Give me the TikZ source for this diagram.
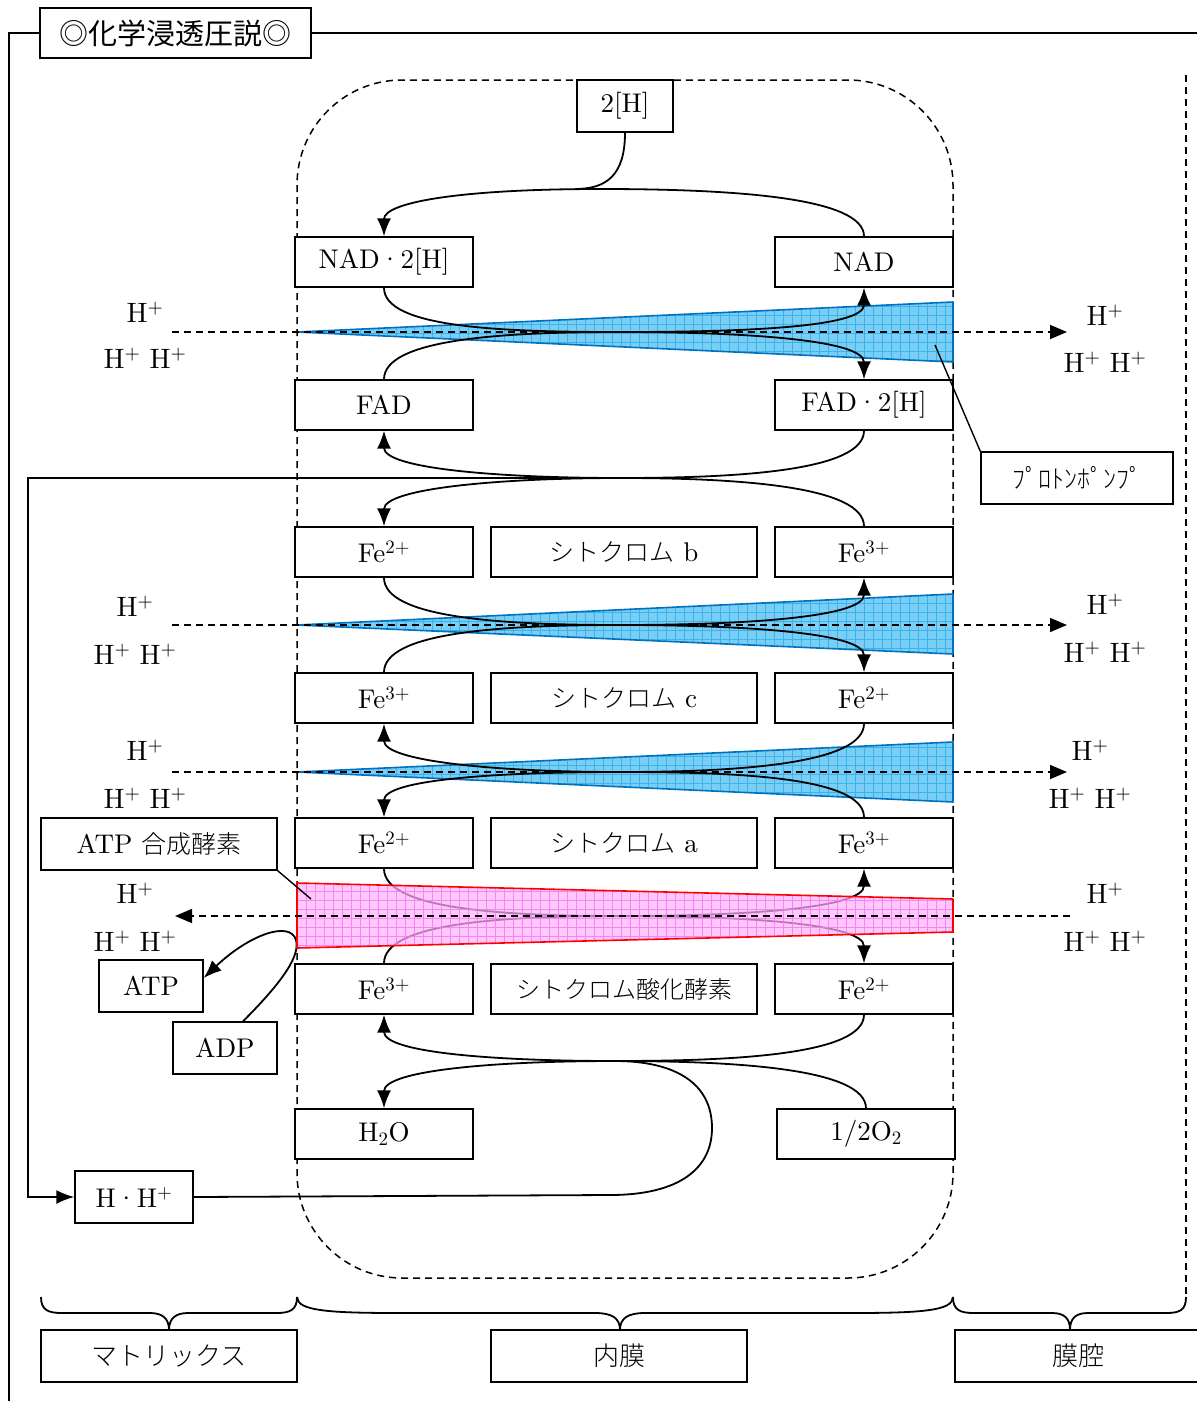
\documentclass[tikz,border=0pt]{standalone}
\usepackage{fontspec}
\setmainfont{lmroman10-regular.otf}[BoldFont=lmroman10-bold.otf, ItalicFont=lmroman10-italic.otf]
\newfontfamily\jp{Noto Sans CJK JP}[UprightFont={* Light}]
\newfontfamily\jpt{Noto Sans CJK JP}
\usetikzlibrary{arrows.meta}
\definecolor{wblue}{RGB}{120,206,244}
\definecolor{wbgrid}{RGB}{60,178,235}
\definecolor{wbedge}{RGB}{0,112,192}
\definecolor{wpink}{RGB}{255,175,250}
\definecolor{wpgrid}{RGB}{240,120,240}
\newcommand\bluewedge[3]{%
  \begin{scope}
    \clip (297,#1) -- (953,#2) -- (953,#3) -- cycle;
    \fill[wblue] (290,#2-5) rectangle (960,#3+5);
    \draw[wbgrid, line width=0.5pt, step=9pt] (290,#2-5) grid (960,#3+5);
  \end{scope}
  \draw[wbedge, line width=1.6pt, line join=round] (297,#1) -- (953,#2) -- (953,#3) -- cycle;}
\begin{document}
\begin{tikzpicture}[x=1pt,y=-1pt,
  bx/.style={draw, fill=white, line width=1.4pt, inner sep=0pt, font=\fontsize{27}{30}\selectfont},
  sz/.style={minimum width=178pt, minimum height=50pt},
  mid/.style={minimum width=266pt, minimum height=50pt, font=\fontsize{27}{30}\selectfont},
  lbl/.style={inner sep=0pt, font=\fontsize{28}{30}\selectfont},
  crv/.style={line width=1.8pt},
  arr/.style={line width=1.8pt, -{Latex[length=18pt,width=14pt]}},
  dsh/.style={line width=1.5pt, dash pattern=on 7pt off 5pt},
  darr/.style={line width=1.5pt, dash pattern=on 7pt off 5pt, -{Triangle[length=17pt,width=14pt]}}]
\useasboundingbox (0,0) rectangle (1197,1401);

% ---- frame ----
\node[bx, minimum width=271pt, minimum height=50pt, font=\jpt\fontsize{29}{32}\selectfont] (title) at (175.5,33) {◎化学浸透圧説◎};
\coordinate (f1) at (9,33);
\coordinate (f2) at (9,1401);
\coordinate (f3) at (1197,33);
\draw[line width=1.5pt] (title.west) -- (f1) -- (f2);
\draw[line width=1.5pt] (title.east) -- (f3);

\draw[dsh, rounded corners=105pt] (297,80) rectangle (953,1278);
\draw[dsh] (1186,75) -- (1186,1297);

% ---- braces ----
\draw[crv] (41,1297) .. controls (41,1310) and (48,1313) .. (62,1313) -- (150,1313)
  .. controls (162,1313) and (169,1318) .. (169,1330)
  .. controls (169,1318) and (176,1313) .. (188,1313) -- (276,1313)
  .. controls (290,1313) and (297,1310) .. (297,1297);
\draw[crv] (297,1297) .. controls (297,1311) and (330,1313) .. (400,1313) -- (595,1313)
  .. controls (612,1313) and (620,1318) .. (620,1330)
  .. controls (620,1318) and (628,1313) .. (645,1313) -- (850,1313)
  .. controls (920,1313) and (953,1311) .. (953,1297);
\draw[crv] (953,1297) .. controls (953,1310) and (960,1313) .. (974,1313) -- (1052,1313)
  .. controls (1064,1313) and (1070,1318) .. (1070,1330)
  .. controls (1070,1318) and (1076,1313) .. (1088,1313) -- (1166,1313)
  .. controls (1180,1313) and (1186,1310) .. (1186,1297);

% ---- blue wedges ----
\bluewedge{332}{302}{362}
\bluewedge{625}{594}{654}
\bluewedge{772}{742}{802}

% ---- boxes ----
\node[bx, minimum width=96pt, minimum height=52pt] (h2) at (625,106) {2[H]};
\node[bx,sz] (nad2h) at (384,262) {NAD·2[H]};
\node[bx,sz] (nad) at (864,262) {NAD};
\node[bx,sz] (fad) at (384,405) {FAD};
\node[bx,sz] (fad2h) at (864,405) {FAD·2[H]};

\node[bx,sz] (fe1l) at (384,552) {Fe\textsuperscript{2+}};
\node[bx,mid] (cytb) at (624,552) {{\jp\fontsize{25}{30}\selectfont シトクロム} b};
\node[bx,sz] (fe1r) at (864,552) {Fe\textsuperscript{3+}};

\node[bx,sz] (fe2l) at (384,698) {Fe\textsuperscript{3+}};
\node[bx,mid] (cytc) at (624,698) {{\jp\fontsize{25}{30}\selectfont シトクロム} c};
\node[bx,sz] (fe2r) at (864,698) {Fe\textsuperscript{2+}};

\node[bx,sz] (fe3l) at (384,843) {Fe\textsuperscript{2+}};
\node[bx,mid] (cyta) at (624,843) {{\jp\fontsize{25}{30}\selectfont シトクロム} a};
\node[bx,sz] (fe3r) at (864,843) {Fe\textsuperscript{3+}};

\node[bx,sz] (fe4l) at (384,989) {Fe\textsuperscript{3+}};
\node[bx,mid,font=\jp\fontsize{24}{30}\selectfont] (cox) at (624,989) {シトクロム酸化酵素};
\node[bx,sz] (fe4r) at (864,989) {Fe\textsuperscript{2+}};

\node[bx,sz] (h2o) at (384,1134) {H\textsubscript{2}O};
\node[bx,sz] (o2) at (866,1134) {1/2O\textsubscript{2}};

\node[bx, minimum width=118pt, minimum height=52pt] (hh) at (134,1197) {H·H\textsuperscript{+}};
\node[bx, minimum width=104pt, minimum height=52pt] (atp) at (151,986) {ATP};
\node[bx, minimum width=104pt, minimum height=52pt] (adp) at (225,1048) {ADP};
\node[bx, minimum width=236pt, minimum height=52pt] (atpase) at (159,844) {ATP {\jp\fontsize{25}{30}\selectfont 合成酵素}};
\node[bx, minimum width=192pt, minimum height=52pt, font=\jp\fontsize{26}{30}\selectfont] (pump) at (1077,478) {ﾌﾟﾛﾄﾝﾎﾟﾝﾌﾟ};

\node[bx, minimum width=256pt, minimum height=52pt, font=\jp\fontsize{26}{30}\selectfont] (matrix) at (169,1356) {マトリックス};
\node[bx, minimum width=256pt, minimum height=52pt, font=\jp\fontsize{26}{30}\selectfont] (inner) at (619,1356) {内膜};
\node[bx, minimum width=246pt, minimum height=52pt, font=\jp\fontsize{26}{30}\selectfont] (space) at (1078,1356) {膜腔};

% ---- junction points ----
\coordinate (t1) at (600,189);
\coordinate (t2) at (575,189);
\coordinate (m1) at (620,332);
\coordinate (m2) at (620,478);
\coordinate (m3) at (620,625);
\coordinate (m4) at (620,772);
\coordinate (m5) at (620,916);
\coordinate (m6) at (615,1061);
\coordinate (c1) at (28,478);
\coordinate (l1) at (610,1195);
\coordinate (l2) at (712,1128);
\coordinate (a1) at (296,940);

% ---- electron transfer curves ----
\draw[arr] (nad.north) .. controls +(0,-38) and +(140,0) .. (t1) .. controls +(-140,0) and +(0,-34) .. (nad2h.north);
\draw[crv] (h2.south) .. controls +(0,42) and +(32,0) .. (t2);

\draw[arr] (nad2h.south) .. controls +(0,40) and +(-120,0) .. (m1) .. controls +(120,0) and +(0,-40) .. (fad2h.north);
\draw[arr] (fad.north) .. controls +(0,-40) and +(-120,0) .. (m1) .. controls +(120,0) and +(0,40) .. (nad.south);

\draw[arr] (fad2h.south) .. controls +(0,40) and +(120,0) .. (m2) .. controls +(-120,0) and +(0,38) .. (fad.south);
\draw[arr] (fe1r.north) .. controls +(0,-40) and +(120,0) .. (m2) .. controls +(-120,0) and +(0,-38) .. (fe1l.north);
\draw[arr] (m2) -- (c1) |- (hh.west);

\draw[arr] (fe1l.south) .. controls +(0,40) and +(-120,0) .. (m3) .. controls +(120,0) and +(0,-40) .. (fe2r.north);
\draw[arr] (fe2l.north) .. controls +(0,-40) and +(-120,0) .. (m3) .. controls +(120,0) and +(0,40) .. (fe1r.south);

\draw[arr] (fe2r.south) .. controls +(0,40) and +(120,0) .. (m4) .. controls +(-120,0) and +(0,38) .. (fe2l.south);
\draw[arr] (fe3r.north) .. controls +(0,-40) and +(120,0) .. (m4) .. controls +(-120,0) and +(0,-38) .. (fe3l.north);

\draw[arr] (fe3l.south) .. controls +(0,40) and +(-120,0) .. (m5) .. controls +(120,0) and +(0,-40) .. (fe4r.north);
\draw[arr] (fe4l.north) .. controls +(0,-40) and +(-120,0) .. (m5) .. controls +(120,0) and +(0,40) .. (fe3r.south);

\draw[arr] (fe4r.south) .. controls +(0,40) and +(120,0) .. (m6) .. controls +(-120,0) and +(0,38) .. (fe4l.south);
\draw[arr] (o2.north) .. controls +(0,-40) and +(120,0) .. (m6) .. controls +(-120,0) and +(0,-38) .. (h2o.north);
\draw[crv] (hh.east) -- (l1) .. controls +(70,0) and +(0,40) .. (l2) .. controls +(0,-45) and +(60,0) .. (m6);

\draw[arr] ([xshift=18pt]adp.north) .. controls +(42,-42) and +(4,15) .. (a1) .. controls +(-6,-20) and +(45,-43) .. ([yshift=8pt]atp.east);

% ---- pink wedge (ATP synthase) ----
\begin{scope}
  \clip (297,883) -- (953,899) -- (953,932) -- (297,948) -- cycle;
  \fill[wpink, fill opacity=0.7] (290,878) rectangle (960,952);
  \draw[wpgrid, line width=0.5pt, step=9pt, opacity=0.8] (290,878) grid (960,952);
\end{scope}
\draw[red, line width=1.6pt, line join=round] (297,883) -- (953,899) -- (953,932) -- (297,948) -- cycle;

% ---- proton flows ----
\coordinate (d1s) at (172,332); \coordinate (d1e) at (1067,332);
\coordinate (d2s) at (172,625); \coordinate (d2e) at (1067,625);
\coordinate (d3s) at (172,772); \coordinate (d3e) at (1067,772);
\coordinate (d4s) at (1070,916); \coordinate (d4e) at (175,916);
\draw[darr] (d1s) -- (d1e);
\draw[darr] (d2s) -- (d2e);
\draw[darr] (d3s) -- (d3e);
\draw[darr] (d4s) -- (d4e);

% ---- pointers ----
\coordinate (p1) at (935,345);
\coordinate (p2) at (311,899);
\draw[line width=1.4pt] (pump.north west) -- (p1);
\draw[line width=1.4pt] (atpase.south east) -- (p2);

% ---- H+ labels ----
\node[lbl] (la1) at (145,312) {H\textsuperscript{+}};
\node[lbl] (lb1) at (145,358) {H\textsuperscript{+} H\textsuperscript{+}};
\node[lbl] (ra1) at (1105,315) {H\textsuperscript{+}};
\node[lbl] (rb1) at (1105,362) {H\textsuperscript{+} H\textsuperscript{+}};
\node[lbl] (la2) at (135,606) {H\textsuperscript{+}};
\node[lbl] (lb2) at (135,654) {H\textsuperscript{+} H\textsuperscript{+}};
\node[lbl] (ra2) at (1105,604) {H\textsuperscript{+}};
\node[lbl] (rb2) at (1105,652) {H\textsuperscript{+} H\textsuperscript{+}};
\node[lbl] (la3) at (145,750) {H\textsuperscript{+}};
\node[lbl] (lb3) at (145,798) {H\textsuperscript{+} H\textsuperscript{+}};
\node[lbl] (ra3) at (1090,750) {H\textsuperscript{+}};
\node[lbl] (rb3) at (1090,798) {H\textsuperscript{+} H\textsuperscript{+}};
\node[lbl] (la4) at (135,893) {H\textsuperscript{+}};
\node[lbl] (lb4) at (135,941) {H\textsuperscript{+} H\textsuperscript{+}};
\node[lbl] (ra4) at (1105,893) {H\textsuperscript{+}};
\node[lbl] (rb4) at (1105,941) {H\textsuperscript{+} H\textsuperscript{+}};
\end{tikzpicture}
\end{document}
